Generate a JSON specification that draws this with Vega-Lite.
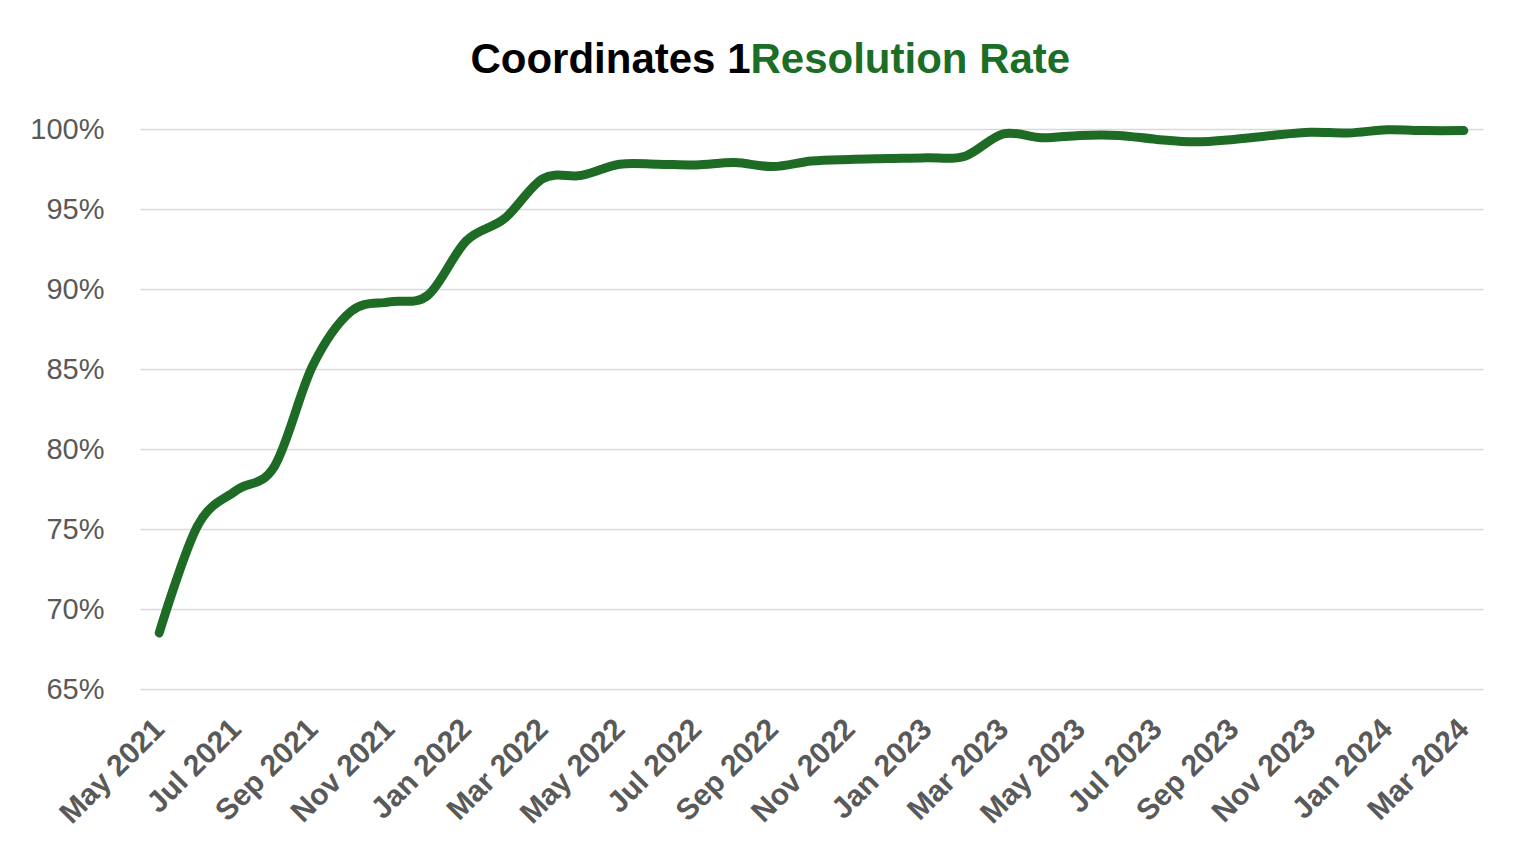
{
  "$schema": "https://vega.github.io/schema/vega-lite/v6.json",
  "width": 1343,
  "height": 560,
  "autosize": {"type": "none"},
  "padding": {"left": 140, "top": 129, "right": 43, "bottom": 171},
  "background": "white",
  "title": {
    "text": "Coordinates 1",
    "subtitle": "Resolution Rate",
    "anchor": "middle",
    "frame": "group",
    "align": "left",
    "dx": -61,
    "offset": 33,
    "font": "Liberation Sans",
    "fontSize": 42,
    "fontWeight": "bold",
    "color": "#000000",
    "subtitleFont": "Liberation Sans",
    "subtitleFontSize": 42,
    "subtitleFontWeight": "bold",
    "subtitleColor": "#1B6E26",
    "subtitlePadding": -42,
    "encoding": {"align": {"value": "right"}}
  },
  "data": {
    "values": [
      {"month": "May 2021", "rate": 0.685},
      {"month": "Jun 2021", "rate": 0.752},
      {"month": "Jul 2021", "rate": 0.774},
      {"month": "Aug 2021", "rate": 0.789},
      {"month": "Sep 2021", "rate": 0.852},
      {"month": "Oct 2021", "rate": 0.886},
      {"month": "Nov 2021", "rate": 0.892},
      {"month": "Dec 2021", "rate": 0.896},
      {"month": "Jan 2022", "rate": 0.930},
      {"month": "Feb 2022", "rate": 0.944},
      {"month": "Mar 2022", "rate": 0.969},
      {"month": "Apr 2022", "rate": 0.971},
      {"month": "May 2022", "rate": 0.978},
      {"month": "Jun 2022", "rate": 0.978},
      {"month": "Jul 2022", "rate": 0.9775},
      {"month": "Aug 2022", "rate": 0.979},
      {"month": "Sep 2022", "rate": 0.9765},
      {"month": "Oct 2022", "rate": 0.980},
      {"month": "Nov 2022", "rate": 0.981},
      {"month": "Dec 2022", "rate": 0.9815},
      {"month": "Jan 2023", "rate": 0.982},
      {"month": "Feb 2023", "rate": 0.983},
      {"month": "Mar 2023", "rate": 0.997},
      {"month": "Apr 2023", "rate": 0.9945},
      {"month": "May 2023", "rate": 0.996},
      {"month": "Jun 2023", "rate": 0.996},
      {"month": "Jul 2023", "rate": 0.9935},
      {"month": "Aug 2023", "rate": 0.992},
      {"month": "Sep 2023", "rate": 0.9935},
      {"month": "Oct 2023", "rate": 0.996},
      {"month": "Nov 2023", "rate": 0.998},
      {"month": "Dec 2023", "rate": 0.9975},
      {"month": "Jan 2024", "rate": 0.9995},
      {"month": "Feb 2024", "rate": 0.999},
      {"month": "Mar 2024", "rate": 0.999}
    ]
  },
  "mark": {
    "type": "line",
    "interpolate": "cardinal",
    "color": "#1D6B25",
    "strokeWidth": 9,
    "strokeCap": "round",
    "strokeJoin": "round",
    "clip": false
  },
  "encoding": {
    "x": {
      "field": "month",
      "type": "ordinal",
      "sort": null,
      "scale": {"type": "point", "padding": 0.5},
      "axis": {
        "title": null,
        "values": ["May 2021", "Jul 2021", "Sep 2021", "Nov 2021", "Jan 2022", "Mar 2022", "May 2022", "Jul 2022", "Sep 2022", "Nov 2022", "Jan 2023", "Mar 2023", "May 2023", "Jul 2023", "Sep 2023", "Nov 2023", "Jan 2024", "Mar 2024"],
        "labelAngle": -45,
        "labelAlign": "right",
        "labelBaseline": "middle",
        "labelPadding": 35,
        "labelFont": "Liberation Sans",
        "labelFontSize": 30,
        "labelFontWeight": "bold",
        "labelColor": "#595959",
        "labelOverlap": false,
        "ticks": false,
        "domain": false,
        "grid": false
      }
    },
    "y": {
      "field": "rate",
      "type": "quantitative",
      "scale": {"domain": [0.65, 1.0], "nice": false, "zero": false},
      "axis": {
        "title": null,
        "values": [0.65, 0.70, 0.75, 0.80, 0.85, 0.90, 0.95, 1.0],
        "format": ".0%",
        "labelPadding": 36,
        "labelFont": "Liberation Sans",
        "labelFontSize": 29,
        "labelColor": "#595959",
        "ticks": false,
        "domain": false,
        "grid": true,
        "gridColor": "#D9D9D9",
        "gridWidth": 1.5
      }
    }
  },
  "config": {
    "view": {"stroke": null}
  }
}
